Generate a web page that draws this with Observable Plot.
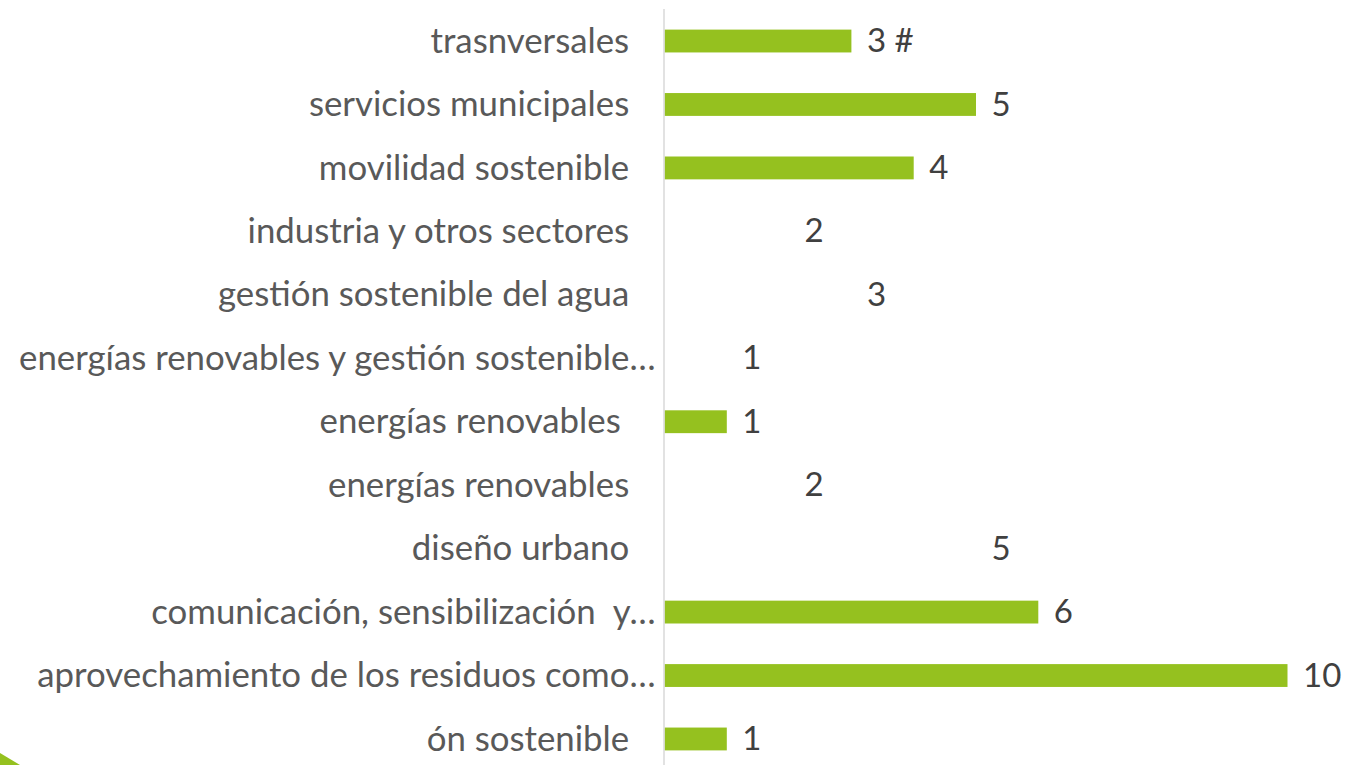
<!DOCTYPE html>
<html>
<head>
<meta charset="utf-8">
<script src="https://cdn.jsdelivr.net/npm/d3@7"></script>
<script src="https://cdn.jsdelivr.net/npm/@observablehq/plot@0.6"></script>
<style>
  html, body { margin: 0; padding: 0; background: #ffffff; }
  #wrap { position: relative; width: 1346px; height: 765px; overflow: hidden; }
  #deco { position: absolute; left: 0; top: 753px; width: 20px; height: 12px;
          background: #95C11F; clip-path: polygon(0 0, 0 100%, 100% 100%); }
</style>
</head>
<body>
<div id="wrap"><div id="deco"></div></div>
<script>
const categories = [
  "trasnversales\u2002\u00a0",
  "servicios municipales\u2002\u00a0",
  "movilidad sostenible\u2002\u00a0",
  "industria y otros sectores\u2002\u00a0",
  "gestión sostenible del agua\u2002\u00a0",
  "energías renovables y gestión sostenible…",
  "energías renovables\u2002\u2002",
  "energías renovables\u2002\u00a0",
  "diseño urbano\u2002\u00a0",
  "comunicación, sensibilización\u00a0 y…",
  "aprovechamiento de los residuos como…",
  "ón sostenible\u2002\u00a0"
];
const values = [3, 5, 4, 2, 3, 1, 1, 2, 5, 6, 10, 1];
const valueLabels = ["3 #", "5", "4", "2", "3", "1", "1", "2", "5", "6", "10", "1"];
const barShown = [true, true, true, false, false, false, true, false, false, true, true, true];

const data = categories.map((c, i) => ({
  i, category: c, value: values[i], label: valueLabels[i], shown: barShown[i]
}));

const chart = Plot.plot({
  width: 1346,
  height: 765,
  marginLeft: 664.5,
  marginRight: 58.5,
  marginTop: 9,
  marginBottom: 0,
  style: { fontFamily: "Lato, sans-serif", color: "#595959", background: "transparent" },
  x: { domain: [0, 10], range: [664.5, 1287.5], axis: null, label: null },
  y: { domain: d3.range(categories.length), range: [9.3, 770.7], paddingInner: 0.64, paddingOuter: 0.32, round: false, axis: null, label: null },
  marks: [
    Plot.barX(data.filter(d => d.shown), { x: "value", y: "i", fill: "#95C11F" }),
    Plot.ruleX([0], { stroke: "#d9d9d9", strokeWidth: 1.5, dx: -1 }),
    Plot.text(data, { x: "value", y: "i", text: "label", dx: 15, textAnchor: "start", fontSize: 33, fill: "#404040" }),
    Plot.axisY({ tickSize: 0, tickPadding: 9.5, fontSize: 34.8, fill: "#595959", label: null, tickFormat: i => categories[i] })
  ]
});
chart.style.position = "absolute";
chart.style.left = "0";
chart.style.top = "0";
document.getElementById("wrap").prepend(chart);
</script>
</body>
</html>
